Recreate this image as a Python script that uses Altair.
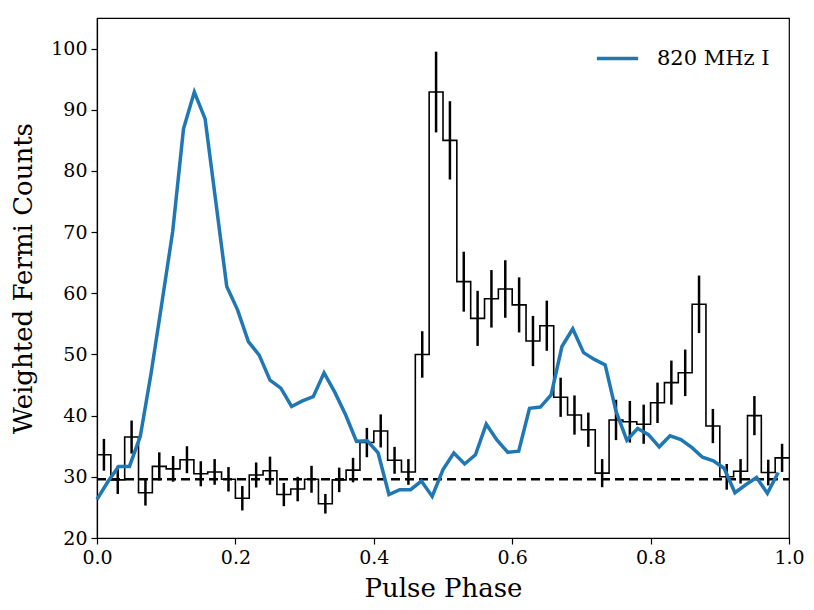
import altair as alt
import pandas as pd

# Fermi histogram (50 bins of 0.02 in phase)
hist_vals = [33.6, 29.5, 36.5, 27.4, 31.7, 31.3, 32.8, 30.5, 30.8, 29.6,
             26.5, 30.3, 31.0, 27.1, 28.0, 29.6, 25.6, 29.5, 31.1, 35.6,
             37.5, 32.7, 30.8, 50.0, 92.9, 85.0, 61.9, 55.9, 59.1, 60.7,
             58.1, 52.2, 54.7, 43.0, 40.1, 37.7, 30.6, 39.3, 39.0, 38.6,
             42.1, 45.4, 47.0, 58.2, 38.3, 30.0, 30.9, 40.0, 30.7, 33.1]
hist_errs = [2.6, 2.3, 2.7, 2.1, 2.3, 2.1, 2.2, 2.05, 2.1, 2.0,
             2.0, 2.05, 2.3, 1.9, 2.0, 2.2, 1.6, 2.0, 2.0, 2.4,
             2.7, 2.2, 2.1, 3.8, 6.6, 6.4, 4.9, 4.5, 4.7, 4.7,
             4.5, 4.1, 4.1, 3.2, 3.2, 2.8, 2.3, 3.3, 3.4, 3.2,
             3.3, 3.6, 3.8, 4.7, 2.8, 2.1, 2.0, 3.2, 2.1, 2.3]
# 820 MHz radio profile (64 phase points, scaled)
radio_vals = [26.3, 29.2, 31.7, 31.7, 36.6, 46.9, 58.4, 70.1, 86.9, 92.9,
              88.5, 74.8, 61.1, 57.3, 52.1, 49.9, 45.8, 44.5, 41.5, 42.4,
              43.1, 47.0, 43.8, 40.1, 35.8, 35.9, 33.9, 27.1, 27.9, 27.9,
              29.3, 26.8, 31.2, 33.9, 32.1, 33.6, 38.6, 36.0, 34.0, 34.2,
              41.2, 41.4, 43.4, 51.3, 54.2, 50.3, 49.2, 48.3, 40.7, 36.0,
              37.9, 36.9, 34.9, 36.7, 36.1, 34.8, 33.2, 32.6, 31.4, 27.4,
              28.7, 29.9, 27.3, 30.7]
background = 29.6
n_bins = len(hist_vals)
bw = 1.0 / n_bins

step_df = pd.DataFrame({
    "phase": [i * bw for i in range(n_bins)] + [1.0],
    "counts": hist_vals + [hist_vals[-1]],
})
err_df = pd.DataFrame({
    "phase": [(i + 0.5) * bw for i in range(n_bins)],
    "lo": [v - e for v, e in zip(hist_vals, hist_errs)],
    "hi": [v + e for v, e in zip(hist_vals, hist_errs)],
})
radio_df = pd.DataFrame({
    "phase": [i / len(radio_vals) for i in range(len(radio_vals))],
    "counts": radio_vals,
    "series": ["820 MHz I"] * len(radio_vals),
})
bg_df = pd.DataFrame({"phase": [0.0, 1.0], "counts": [background, background]})

FONT = "DejaVu Serif"
xscale = alt.Scale(domain=[0, 1], nice=False, zero=False)
yscale = alt.Scale(domain=[20, 105], nice=False, zero=False)
xaxis = alt.Axis(title="Pulse Phase", values=[0, 0.2, 0.4, 0.6, 0.8, 1.0], format=".1f",
                 labelFlush=False, labelOverlap=False)
yaxis = alt.Axis(title="Weighted Fermi Counts", values=list(range(20, 101, 10)),
                 labelFlush=False, labelOverlap=False)

x = alt.X("phase:Q", scale=xscale, axis=xaxis)
y = alt.Y("counts:Q", scale=yscale, axis=yaxis)

step = alt.Chart(step_df).mark_line(interpolate="step-after", color="black", strokeWidth=1.6).encode(x=x, y=y)
errs = alt.Chart(err_df).mark_rule(color="black", strokeWidth=2.5).encode(
    x=alt.X("phase:Q", scale=xscale), y=alt.Y("lo:Q", scale=yscale), y2="hi:Q")
bg = alt.Chart(bg_df).mark_line(color="black", strokeWidth=2.3, strokeDash=[9, 5]).encode(x=x, y=y)
radio = alt.Chart(radio_df).mark_line(strokeWidth=3.5).encode(
    x=x, y=y,
    color=alt.Color("series:N", scale=alt.Scale(domain=["820 MHz I"], range=["#1f77b4"]),
                    legend=alt.Legend(title=None, orient="none", legendX=498, legendY=18,
                                      symbolType="stroke", symbolSize=1700, symbolStrokeWidth=3.5,
                                      labelFont=FONT, labelFontSize=21, labelOffset=17,
                                      labelColor="black")))

chart = alt.layer(step, errs, bg, radio).properties(
    width=692, height=520,
    autosize=alt.AutoSizeParams(type="none"),
    padding={"left": 89, "top": 10, "right": 17, "bottom": 64},
).configure_view(stroke="black", strokeWidth=1.2).configure_axis(
    grid=False, domainColor="black", domainWidth=1.2, tickColor="black", tickSize=6,
    tickWidth=1.2, labelFont=FONT, labelFontSize=19, labelColor="black",
    titleFont=FONT, titleFontSize=26, titleFontWeight="normal", titleColor="black",
    labelPadding=4,
).configure_axisX(titlePadding=8).configure_axisY(titlePadding=14)

chart.save("out.html", embed_options={"renderer": "svg", "actions": False})
